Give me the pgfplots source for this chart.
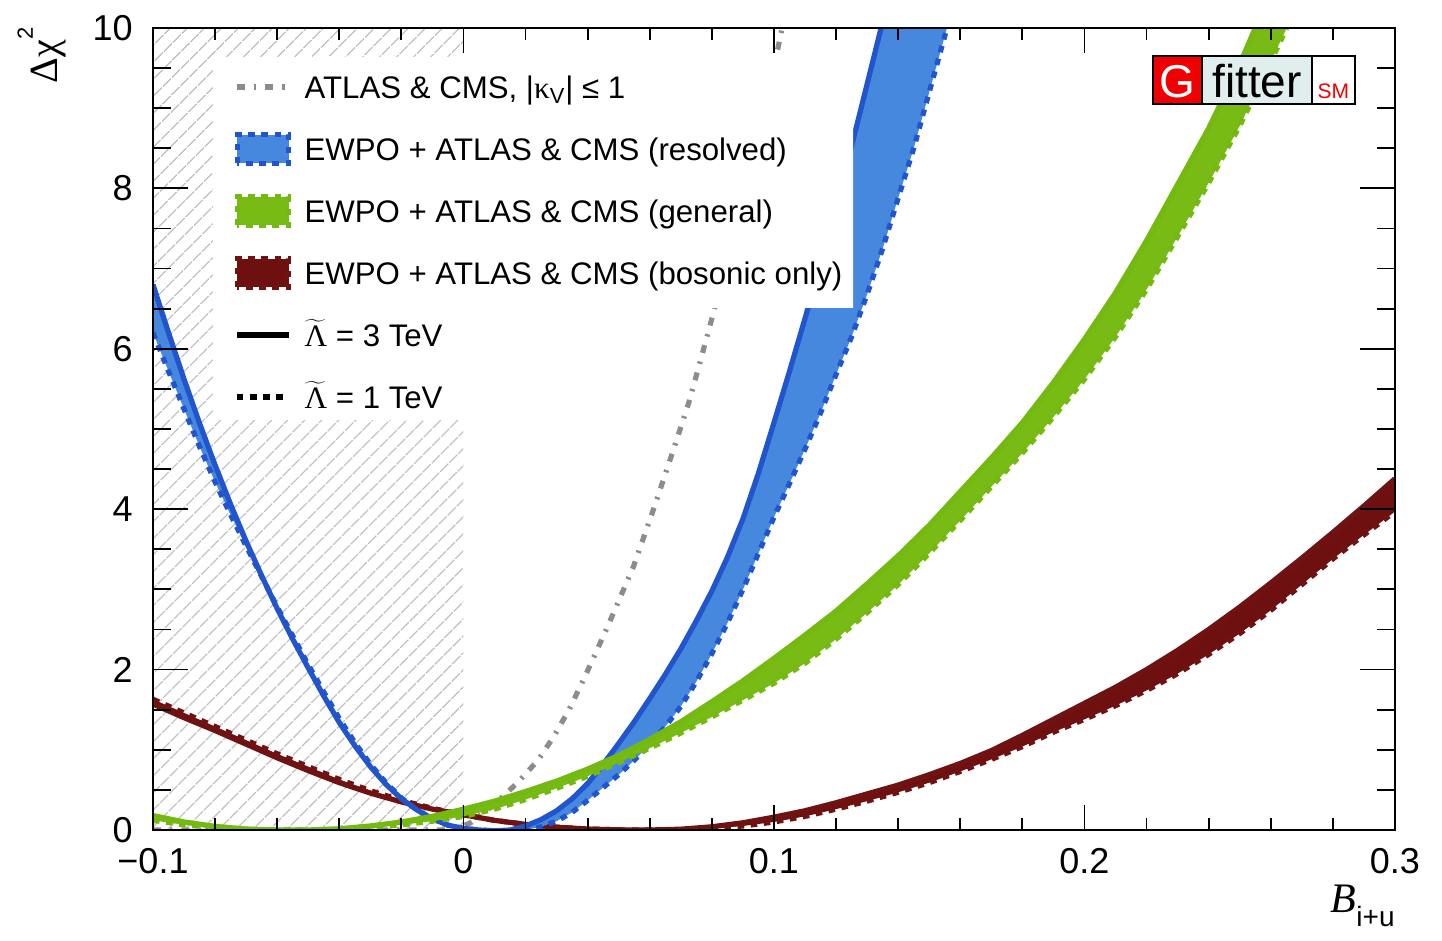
\documentclass[border=0pt]{standalone}
\usepackage{fontspec}
\setmainfont{Liberation Sans}
\newfontfamily\serif{Liberation Serif}
\usepackage{pgfplots}
\pgfplotsset{compat=1.18}
\usepackage{pgfplotstable}
\usetikzlibrary{patterns.meta}

\definecolor{bluefill}{RGB}{70,136,222}
\definecolor{blueline}{RGB}{33,85,205}
\definecolor{greenfill}{RGB}{119,187,20}
\definecolor{greenline}{RGB}{115,185,15}
\definecolor{redfill}{RGB}{110,16,16}
\definecolor{redline}{RGB}{112,18,18}
\definecolor{grayc}{RGB}{140,140,140}
\definecolor{hatchc}{RGB}{192,192,192}
\definecolor{gfred}{RGB}{240,0,0}
\definecolor{gflight}{RGB}{224,238,238}

\tikzset{
  s3/.style={line width=2.6pt, line join=round},
  s1/.style={line width=2.6pt, dash pattern=on 3.3pt off 3.3pt},
  gdd/.style={grayc, line width=2.6pt, dash pattern=on 4pt off 4.5pt on 1.2pt off 4.5pt},
}
\pgfplotsset{
  leggray/.style={legend image code/.code={
      \path[draw=none, fill=none] (0pt,-9pt) rectangle (28pt,9pt);
      \draw[gdd] (1pt,0pt) -- (27pt,0pt);}},
  legband/.style={legend image code/.code={
      \path[draw=none, fill=none] (0pt,-9pt) rectangle (28pt,9pt);
      \draw[fill=#1fill, draw=#1line, line width=2.6pt, dash pattern=on 3.3pt off 3.3pt] (1.3pt,-7.2pt) rectangle (27pt,7.2pt);}},
  legsolid/.style={legend image code/.code={
      \path[draw=none, fill=none] (0pt,-9pt) rectangle (28pt,9pt);
      \draw[black, line width=2.8pt] (1pt,0pt) -- (27pt,0pt);}},
  legdash/.style={legend image code/.code={
      \path[draw=none, fill=none] (0pt,-9pt) rectangle (28pt,9pt);
      \draw[black, line width=2.8pt, dash pattern=on 3.3pt off 3.3pt] (1pt,0pt) -- (27pt,0pt);}},
}

% ATLAS & CMS, |kappa_V| <= 1
\pgfplotstableread{
x y
-0.100 0.00
-0.006 0.00
-0.002 0.02
0.0023 0.09
0.0077 0.25
0.0130 0.43
0.0174 0.59
0.0240 0.87
0.0290 1.16
0.0340 1.50
0.0386 1.87
0.0460 2.50
0.0547 3.28
0.0612 4.00
0.0676 4.74
0.0725 5.32
0.0763 5.85
0.0805 6.45
0.0900 7.95
0.1010 9.70
0.1040 10.25
}\grayT

% resolved, 3 TeV
\pgfplotstableread{
x y
-0.100 6.80
-0.095 6.20
-0.090 5.62
-0.085 5.07
-0.080 4.55
-0.075 4.06
-0.070 3.60
-0.065 3.17
-0.060 2.76
-0.055 2.38
-0.050 2.02
-0.045 1.67
-0.040 1.34
-0.035 1.05
-0.030 0.79
-0.025 0.57
-0.020 0.39
-0.015 0.25
-0.010 0.14
-0.005 0.06
0.000 0.02
0.005 0.00
0.010 -0.01
0.015 0.00
0.020 0.05
0.025 0.13
0.030 0.24
0.035 0.39
0.040 0.58
0.045 0.82
0.050 1.08
0.055 1.35
0.060 1.64
0.065 1.94
0.070 2.26
0.075 2.61
0.080 2.98
0.085 3.40
0.090 3.88
0.095 4.45
0.100 5.08
0.105 5.72
0.110 6.38
0.115 7.06
0.120 7.78
0.125 8.53
0.130 9.30
0.135 10.08
0.140 10.88
}\blueS

% resolved, 1 TeV
\pgfplotstableread{
x y
-0.100 6.20
-0.095 5.72
-0.090 5.25
-0.085 4.78
-0.080 4.34
-0.075 3.93
-0.070 3.54
-0.065 3.16
-0.060 2.78
-0.055 2.42
-0.050 2.06
-0.045 1.72
-0.040 1.39
-0.035 1.09
-0.030 0.82
-0.025 0.59
-0.020 0.40
-0.015 0.25
-0.010 0.14
-0.005 0.06
0.000 0.02
0.005 0.00
0.010 -0.01
0.015 -0.01
0.020 0.00
0.025 0.04
0.030 0.11
0.035 0.22
0.040 0.37
0.045 0.53
0.050 0.69
0.055 0.87
0.060 1.07
0.065 1.29
0.070 1.54
0.075 1.85
0.080 2.20
0.085 2.58
0.090 3.00
0.095 3.45
0.100 3.90
0.105 4.32
0.110 4.75
0.115 5.20
0.120 5.68
0.125 6.15
0.130 6.68
0.135 7.25
0.140 7.88
0.145 8.50
0.150 9.20
0.155 9.90
0.160 10.60
0.165 11.30
}\blueD

% general, 3 TeV
\pgfplotstableread{
x y
-0.100 0.18
-0.090 0.10
-0.080 0.045
-0.070 0.012
-0.060 0.00
-0.050 0.00
-0.040 0.015
-0.030 0.05
-0.020 0.10
-0.010 0.17
0.000 0.26
0.010 0.36
0.020 0.48
0.030 0.61
0.040 0.76
0.050 0.93
0.060 1.13
0.070 1.35
0.080 1.60
0.090 1.86
0.100 2.14
0.110 2.43
0.120 2.73
0.130 3.07
0.140 3.42
0.150 3.80
0.160 4.22
0.170 4.64
0.180 5.08
0.190 5.58
0.200 6.12
0.210 6.70
0.220 7.35
0.230 8.05
0.240 8.75
0.250 9.55
0.260 10.45
0.265 10.90
}\greenS

% general, 1 TeV
\pgfplotstableread{
x y
-0.100 0.12
-0.090 0.065
-0.080 0.028
-0.070 0.007
-0.060 0.00
-0.050 0.00
-0.040 0.008
-0.030 0.03
-0.020 0.065
-0.010 0.11
0.000 0.17
0.010 0.26
0.020 0.38
0.030 0.52
0.040 0.67
0.050 0.84
0.060 1.02
0.070 1.21
0.080 1.41
0.090 1.62
0.100 1.83
0.110 2.08
0.120 2.38
0.130 2.71
0.140 3.06
0.150 3.45
0.160 3.86
0.170 4.28
0.180 4.70
0.190 5.15
0.200 5.62
0.210 6.15
0.220 6.74
0.230 7.40
0.240 8.07
0.250 8.78
0.260 9.58
0.270 10.40
0.275 10.90
}\greenD

% bosonic only, 3 TeV
\pgfplotstableread{
x y
-0.100 1.57
-0.090 1.40
-0.080 1.24
-0.070 1.07
-0.060 0.90
-0.050 0.74
-0.040 0.59
-0.030 0.46
-0.020 0.35
-0.010 0.26
0.000 0.19
0.010 0.12
0.020 0.07
0.030 0.035
0.040 0.012
0.050 0.002
0.060 0.00
0.070 0.01
0.080 0.04
0.090 0.09
0.100 0.16
0.110 0.24
0.120 0.34
0.130 0.45
0.140 0.56
0.150 0.69
0.160 0.83
0.170 0.99
0.180 1.18
0.190 1.38
0.200 1.58
0.210 1.78
0.220 2.00
0.230 2.24
0.240 2.50
0.250 2.78
0.260 3.08
0.270 3.39
0.280 3.71
0.290 4.04
0.300 4.38
}\redS

% bosonic only, 1 TeV
\pgfplotstableread{
x y
-0.100 1.63
-0.090 1.46
-0.080 1.29
-0.070 1.12
-0.060 0.95
-0.050 0.79
-0.040 0.63
-0.030 0.49
-0.020 0.37
-0.010 0.27
0.000 0.19
0.010 0.12
0.020 0.07
0.030 0.035
0.040 0.012
0.050 0.002
0.060 0.00
0.070 0.005
0.080 0.02
0.090 0.05
0.100 0.10
0.110 0.17
0.120 0.26
0.130 0.36
0.140 0.47
0.150 0.59
0.160 0.73
0.170 0.88
0.180 1.04
0.190 1.22
0.200 1.38
0.210 1.55
0.220 1.74
0.230 1.95
0.240 2.19
0.250 2.45
0.260 2.74
0.270 3.06
0.280 3.38
0.290 3.68
0.300 3.97
}\redD

\begin{document}
\begin{tikzpicture}
\useasboundingbox (-76.5pt,-55.5pt) rectangle (644.5pt,415pt);
\begin{axis}[
  at={(0pt,0pt)}, anchor=south west,
  width=621pt, height=401pt, scale only axis,
  xmin=-0.1, xmax=0.3, ymin=0, ymax=10,
  xtick={-0.1,0,0.1,0.2,0.3},
  xticklabels={−0.1,0,0.1,0.2,0.3},
  ytick={0,2,4,6,8,10},
  yticklabels={0,2,4,6,8,10},
  minor x tick num=4, minor y tick num=3,
  tick align=inside,
  axis on top,
  axis line style={line width=1.1pt},
  every tick/.style={black, line width=0.9pt},
  major tick length=12.5pt, minor tick length=6pt,
  ytick style={/pgfplots/major tick length=17.5pt, /pgfplots/minor tick length=8.75pt},
  xticklabel style={font=\fontsize{18}{18}\selectfont, inner sep=0pt, anchor=north, yshift=-9pt},
  yticklabel style={font=\fontsize{18}{18}\selectfont, inner sep=0pt, anchor=east, xshift=-10pt},
  xlabel={{\serif\itshape\fontsize{21}{21}\selectfont B}\raisebox{-7pt}{\fontsize{14}{14}\selectfont i+u}},
  every axis x label/.style={at={(axis description cs:1,-0.10349)}, anchor=base east, inner sep=0pt},
  ylabel={{\serif\fontsize{20}{20}\selectfont Δχ}\raisebox{12.5pt}{\fontsize{11}{11}\selectfont 2}},
  every axis y label/.style={at={(axis description cs:-0.07649,1.00125)}, rotate=90, anchor=base east, inner sep=0pt},
  legend style={at={(axis description cs:0.06522,0.94888)}, anchor=north west,
    draw=none, fill=none, inner sep=0pt, outer sep=0pt,
    row sep=13pt, column sep=6.5pt,
    font=\fontsize{15.6}{18}\selectfont,
    nodes={inner sep=0pt, text height=11.2pt, text depth=0pt}},
  legend cell align=left,
]
% hatched region B < 0
\addplot[forget plot, draw=none, pattern={Lines[angle=45, distance=6.4pt, line width=0.75pt]}, pattern color=hatchc]
  coordinates {(-0.1,0) (0,0) (0,10) (-0.1,10) (-0.1,0)};

% ATLAS & CMS only
\addplot[forget plot, gdd] table {\grayT};

% bosonic only band
\addplot[forget plot, fill=redfill, draw=none] coordinates {
(-0.100,1.57) (-0.090,1.40) (-0.080,1.24) (-0.070,1.07) (-0.060,0.90) (-0.050,0.74) (-0.040,0.59) (-0.030,0.46) (-0.020,0.35) (-0.010,0.26) (0.000,0.19) (0.010,0.12) (0.020,0.07) (0.030,0.035) (0.040,0.012) (0.050,0.002) (0.060,0.00) (0.070,0.01) (0.080,0.04) (0.090,0.09) (0.100,0.16) (0.110,0.24) (0.120,0.34) (0.130,0.45) (0.140,0.56) (0.150,0.69) (0.160,0.83) (0.170,0.99) (0.180,1.18) (0.190,1.38) (0.200,1.58) (0.210,1.78) (0.220,2.00) (0.230,2.24) (0.240,2.50) (0.250,2.78) (0.260,3.08) (0.270,3.39) (0.280,3.71) (0.290,4.04) (0.300,4.38)
(0.300,3.97) (0.290,3.68) (0.280,3.38) (0.270,3.06) (0.260,2.74) (0.250,2.45) (0.240,2.19) (0.230,1.95) (0.220,1.74) (0.210,1.55) (0.200,1.38) (0.190,1.22) (0.180,1.04) (0.170,0.88) (0.160,0.73) (0.150,0.59) (0.140,0.47) (0.130,0.36) (0.120,0.26) (0.110,0.17) (0.100,0.10) (0.090,0.05) (0.080,0.02) (0.070,0.005) (0.060,0.00) (0.050,0.002) (0.040,0.012) (0.030,0.035) (0.020,0.07) (0.010,0.12) (0.000,0.19) (-0.010,0.27) (-0.020,0.37) (-0.030,0.49) (-0.040,0.63) (-0.050,0.79) (-0.060,0.95) (-0.070,1.12) (-0.080,1.29) (-0.090,1.46) (-0.100,1.63)
};
\addplot[forget plot, redline, s3] table {\redS};
\addplot[forget plot, redline, s1] table {\redD};

% resolved band
\addplot[forget plot, fill=bluefill, draw=none] coordinates {
(-0.100,6.80) (-0.095,6.20) (-0.090,5.62) (-0.085,5.07) (-0.080,4.55) (-0.075,4.06) (-0.070,3.60) (-0.065,3.17) (-0.060,2.76) (-0.055,2.38) (-0.050,2.02) (-0.045,1.67) (-0.040,1.34) (-0.035,1.05) (-0.030,0.79) (-0.025,0.57) (-0.020,0.39) (-0.015,0.25) (-0.010,0.14) (-0.005,0.06) (0.000,0.02) (0.005,0.00) (0.010,-0.01) (0.015,0.00) (0.020,0.05) (0.025,0.13) (0.030,0.24) (0.035,0.39) (0.040,0.58) (0.045,0.82) (0.050,1.08) (0.055,1.35) (0.060,1.64) (0.065,1.94) (0.070,2.26) (0.075,2.61) (0.080,2.98) (0.085,3.40) (0.090,3.88) (0.095,4.45) (0.100,5.08) (0.105,5.72) (0.110,6.38) (0.115,7.06) (0.120,7.78) (0.125,8.53) (0.130,9.30) (0.135,10.08) (0.140,10.88)
(0.165,11.30) (0.160,10.60) (0.155,9.90) (0.150,9.20) (0.145,8.50) (0.140,7.88) (0.135,7.25) (0.130,6.68) (0.125,6.15) (0.120,5.68) (0.115,5.20) (0.110,4.75) (0.105,4.32) (0.100,3.90) (0.095,3.45) (0.090,3.00) (0.085,2.58) (0.080,2.20) (0.075,1.85) (0.070,1.54) (0.065,1.29) (0.060,1.07) (0.055,0.87) (0.050,0.69) (0.045,0.53) (0.040,0.37) (0.035,0.22) (0.030,0.11) (0.025,0.04) (0.020,0.00) (0.015,-0.01) (0.010,-0.01) (0.005,0.00) (0.000,0.02) (-0.005,0.06) (-0.010,0.14) (-0.015,0.25) (-0.020,0.40) (-0.025,0.59) (-0.030,0.82) (-0.035,1.09) (-0.040,1.39) (-0.045,1.72) (-0.050,2.06) (-0.055,2.42) (-0.060,2.78) (-0.065,3.16) (-0.070,3.54) (-0.075,3.93) (-0.080,4.34) (-0.085,4.78) (-0.090,5.25) (-0.095,5.72) (-0.100,6.20)
};
\addplot[forget plot, blueline, s3] table {\blueS};
\addplot[forget plot, blueline, s1] table {\blueD};

% general band
\addplot[forget plot, fill=greenfill, draw=none] coordinates {
(-0.100,0.18) (-0.090,0.10) (-0.080,0.045) (-0.070,0.012) (-0.060,0.00) (-0.050,0.00) (-0.040,0.015) (-0.030,0.05) (-0.020,0.10) (-0.010,0.17) (0.000,0.26) (0.010,0.36) (0.020,0.48) (0.030,0.61) (0.040,0.76) (0.050,0.93) (0.060,1.13) (0.070,1.35) (0.080,1.60) (0.090,1.86) (0.100,2.14) (0.110,2.43) (0.120,2.73) (0.130,3.07) (0.140,3.42) (0.150,3.80) (0.160,4.22) (0.170,4.64) (0.180,5.08) (0.190,5.58) (0.200,6.12) (0.210,6.70) (0.220,7.35) (0.230,8.05) (0.240,8.75) (0.250,9.55) (0.260,10.45) (0.265,10.90)
(0.275,10.90) (0.270,10.40) (0.260,9.58) (0.250,8.78) (0.240,8.07) (0.230,7.40) (0.220,6.74) (0.210,6.15) (0.200,5.62) (0.190,5.15) (0.180,4.70) (0.170,4.28) (0.160,3.86) (0.150,3.45) (0.140,3.06) (0.130,2.71) (0.120,2.38) (0.110,2.08) (0.100,1.83) (0.090,1.62) (0.080,1.41) (0.070,1.21) (0.060,1.02) (0.050,0.84) (0.040,0.67) (0.030,0.52) (0.020,0.38) (0.010,0.26) (0.000,0.17) (-0.010,0.11) (-0.020,0.065) (-0.030,0.03) (-0.040,0.008) (-0.050,0.00) (-0.060,0.00) (-0.070,0.007) (-0.080,0.028) (-0.090,0.065) (-0.100,0.12)
};
\addplot[forget plot, greenline, s3] table {\greenS};
\addplot[forget plot, greenline, s1] table {\greenD};

% white legend background
\fill[white] (axis description cs:0.04831,0.96384) -- (axis description cs:0.56361,0.96384)
  -- (axis description cs:0.56361,0.65087) -- (axis description cs:0.25523,0.65087)
  -- (axis description cs:0.25523,0.51122) -- (axis description cs:0.04831,0.51122) -- cycle;

\addlegendimage{leggray}
\addlegendentry{ATLAS \& CMS, |{\serif κ}\textsubscript{V}| ≤ 1}
\addlegendimage{legband=blue}
\addlegendentry{EWPO + ATLAS \& CMS (resolved)}
\addlegendimage{legband=green}
\addlegendentry{EWPO + ATLAS \& CMS (general)}
\addlegendimage{legband=red}
\addlegendentry{EWPO + ATLAS \& CMS (bosonic only)}
\addlegendimage{legsolid}
\addlegendentry{$\widetilde{\hbox{\serif Λ}}$ = 3 TeV}
\addlegendimage{legdash}
\addlegendentry{$\widetilde{\hbox{\serif Λ}}$ = 1 TeV}
\end{axis}

% Gfitter logo
\draw[line width=0.7pt, fill=gfred] (500pt,363pt) rectangle (524.5pt,387pt);
\draw[line width=0.7pt, fill=gflight] (524.5pt,363pt) rectangle (579.5pt,387pt);
\draw[line width=0.7pt, fill=white] (579.5pt,363pt) rectangle (601pt,387pt);
\node[anchor=base, text=white, inner sep=0pt, font=\fontsize{23}{23}\selectfont] at (512.25pt,366pt) {G};
\node[anchor=base, inner sep=0pt, font=\fontsize{23}{23}\selectfont] at (552pt,366pt) {fitter};
\node[anchor=base, text=gfred, inner sep=0pt, font=\fontsize{10.5}{10.5}\selectfont] at (590.2pt,365.5pt) {SM};
\end{tikzpicture}
\end{document}
